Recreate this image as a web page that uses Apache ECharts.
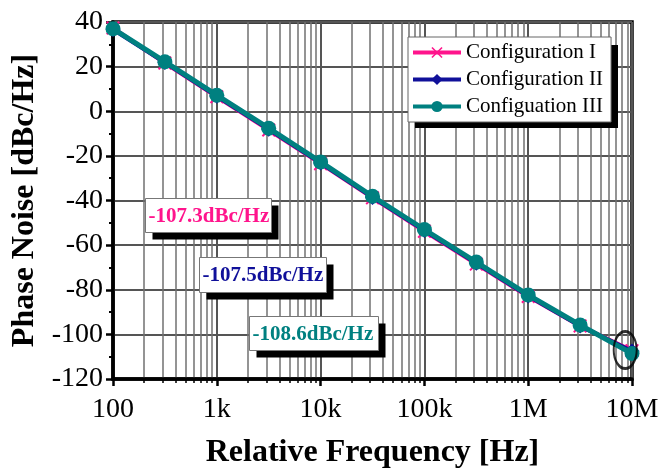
<!DOCTYPE html>
<html>
<head>
<meta charset="utf-8">
<script src="https://cdn.jsdelivr.net/npm/echarts@6/dist/echarts.min.js"></script>
<style>
  html, body { margin: 0; padding: 0; background: #fff; }
  #chart { width: 664px; height: 474px; }
</style>
</head>
<body>
<div id="chart"></div>
<script>
// Offset frequencies (Hz), half-decade steps
const freqs = [100, 316, 1000, 3162, 10000, 31623, 100000, 316228, 1000000, 3162278, 10000000];

// Phase noise (dBc/Hz) per configuration
const configI   = [37.3, 21.6, 6.5, -8.4, -23.5, -38.8, -53.8, -68.5, -83.0, -96.2, -107.3];
const configII  = [36.6, 21.8, 6.7, -8.1, -23.2, -38.6, -53.5, -68.1, -82.8, -96.3, -107.5];
const configIII = [37.0, 22.2, 7.2, -7.6, -22.7, -38.1, -53.0, -67.6, -82.3, -95.8, -108.6];

const seriesNames  = ['Configuration I', 'Configuration II', 'Configuation III'];
const seriesColors = ['#ff148c', '#10109a', '#008080'];

// Axis ticks
const xTickValues = [100, 1000, 10000, 100000, 1000000, 10000000];
const xTickLabels = ['100', '1k', '10k', '100k', '1M', '10M'];
const yMin = -120, yMax = 40, yStep = 20;

// Highlighted end point (ellipse centre)
const highlight = [8.6e6, -107];

// Minor log grid positions: 2..9 within each decade
const xMinorValues = [];
xTickValues.slice(0, -1).forEach(d => { for (let k = 2; k <= 9; k++) xMinorValues.push(d * k); });

const serif = "'Liberation Serif', 'Times New Roman', serif";

const toPairs = arr => arr.map((v, i) => [freqs[i], v]);

const xSymbol = 'path://M1,0 L5,4 L9,0 L10,1 L6,5 L10,9 L9,10 L5,6 L1,10 L0,9 L4,5 L0,1 Z';

const chart = echarts.init(document.getElementById('chart'), null, { renderer: 'canvas' });

// End-point value labels (box + shadow + text)
const endValues = [configI, configII, configIII].map(a => a[a.length - 1]);
const boxes = [
  { x: 145, y: 198, w: 126, h: 34 },
  { x: 199, y: 257, w: 127, h: 35 },
  { x: 249, y: 316, w: 129, h: 34 }
];
const graphics = [];
boxes.forEach((b, i) => {
  graphics.push({
    type: 'group', left: b.x, top: b.y, z: 20,
    children: [
      { type: 'rect', z: 20, shape: { x: 7, y: 7, width: b.w, height: b.h }, style: { fill: '#000' } },
      { type: 'rect', z: 21, shape: { x: 0, y: 0, width: b.w, height: b.h }, style: { fill: '#fff', stroke: '#777', lineWidth: 1 } },
      { type: 'text', z: 22, x: 3, y: b.h / 2 + 1,
        style: { text: endValues[i].toFixed(1) + 'dBc/Hz', fill: seriesColors[i],
                 font: 'bold 21px ' + serif, verticalAlign: 'middle', align: 'left' } }
    ]
  });
});
// Legend drop shadow
graphics.push({ type: 'rect', z: 1, shape: { x: 415, y: 45, width: 203, height: 83 }, style: { fill: '#000' } });

const lineSeries = [configI, configII, configIII].map((arr, i) => ({
  name: seriesNames[i],
  type: 'line',
  data: toPairs(arr),
  symbol: [xSymbol, 'diamond', 'circle'][i],
  symbolSize: [14, 15, 15][i],
  showAllSymbol: true,
  lineStyle: { color: seriesColors[i], width: [4, 4, 5][i] },
  itemStyle: { color: seriesColors[i] },
  z: 3 + i,
  animation: false
}));

lineSeries.push({
  type: 'scatter',
  data: [highlight],
  symbol: 'circle',
  symbolSize: [23, 37],
  clip: false,
  silent: true,
  itemStyle: { color: 'rgba(0,0,0,0)', borderColor: '#000', borderWidth: 2.5 },
  z: 8,
  animation: false
});

chart.setOption({
  animation: false,
  backgroundColor: '#fff',
  grid: {
    left: 113, right: 32, top: 22, bottom: 90,
    show: true, borderColor: '#000', borderWidth: 3.5, backgroundColor: 'rgba(0,0,0,0)'
  },
  legend: {
    data: seriesNames,
    orient: 'vertical',
    left: 408, top: 37,
    backgroundColor: '#fff',
    borderColor: '#666', borderWidth: 1,
    padding: [5, 8, 5, 3],
    itemWidth: 48, itemHeight: 14, itemGap: 6,
    lineStyle: { width: 4 },
    textStyle: { fontFamily: serif, fontSize: 21, color: '#000' },
    z: 5
  },
  xAxis: [
    {
      type: 'log', logBase: 10, min: 100, max: 10000000,
      name: 'Relative Frequency [Hz]',
      nameLocation: 'middle', nameGap: 58,
      nameTextStyle: { fontFamily: serif, fontSize: 32, fontWeight: 'bold', color: '#000' },
      axisLine: { show: true, onZero: false, lineStyle: { color: '#000', width: 3.5 } },
      axisTick: { show: true, inside: false, length: 7, lineStyle: { color: '#000', width: 2.5 }, customValues: xTickValues },
      axisLabel: {
        customValues: xTickValues,
        formatter: v => xTickLabels[xTickValues.findIndex(t => Math.abs(t - v) / t < 1e-6)] ?? '',
        fontFamily: serif, fontSize: 28, color: '#000', margin: 17
      },
      splitLine: { show: true, lineStyle: { color: '#555', width: 2 } }
    },
    {
      type: 'log', logBase: 10, min: 100, max: 10000000,
      position: 'bottom',
      axisLine: { show: false, onZero: false },
      axisTick: { show: true, inside: false, length: 4, lineStyle: { color: '#000', width: 1.5 }, customValues: xMinorValues },
      axisLabel: { show: false, customValues: xMinorValues },
      splitLine: { show: true, lineStyle: { color: '#707070', width: 1.5 } }
    }
  ],
  yAxis: {
    type: 'value', min: yMin, max: yMax, interval: yStep,
    name: 'Phase Noise [dBc/Hz]',
    nameLocation: 'middle', nameGap: 72,
    nameTextStyle: { fontFamily: serif, fontSize: 32, fontWeight: 'bold', color: '#000' },
    axisLine: { show: true, onZero: false, lineStyle: { color: '#000', width: 3.5 } },
    axisTick: { show: true, inside: false, length: 7, lineStyle: { color: '#000', width: 2.5 } },
    minorTick: { show: true, splitNumber: 2, length: 4, lineStyle: { color: '#000', width: 2 } },
    axisLabel: { fontFamily: serif, fontSize: 28, color: '#000', margin: 10 },
    splitLine: { show: true, lineStyle: { color: '#555', width: 2 } }
  },
  series: lineSeries,
  graphic: graphics
});
</script>
</body>
</html>
